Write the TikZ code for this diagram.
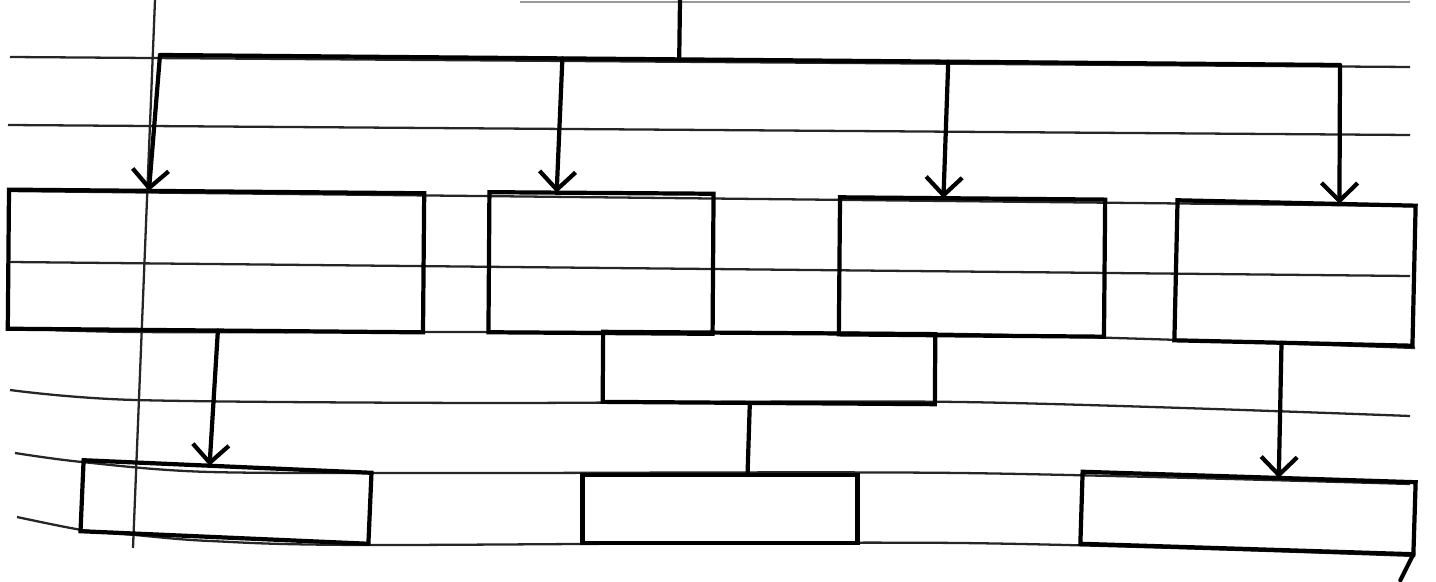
\documentclass[tikz,border=0pt]{standalone}
\usetikzlibrary{arrows.meta,calc}
\begin{document}
\begin{tikzpicture}[x=0.01cm,y=-0.01cm,
  ink/.style={line width=1.2pt, black, line cap=round, line join=round},
  ruled/.style={line width=0.65pt, black!85},
  boxnode/.style={draw, line width=1.2pt, black, rectangle, inner sep=0pt, outer sep=0pt},
  arr/.style={ink, -{Straight Barb[length=1.8mm,width=3.6mm,line width=1.2pt]}},
]
\useasboundingbox (0,0) rectangle (1436,582);
% ruled paper
\draw[ruled, black!40] (520,2) -- (1410,2);
\draw[ruled] (10,57) -- (1410,67);
\draw[ruled] (8,125) -- (1410,135);
\draw[ruled] (8,191) -- (1415,206);
\draw[ruled] (10,262) -- (1410,276);
\draw[ruled] plot[smooth] coordinates {(8,328) (135,332) (480,332) (960,334) (1415,348)};
\draw[ruled] plot[smooth] coordinates {(10,390) (135,400) (480,403) (960,402) (1410,416)};
\draw[ruled] plot[smooth] coordinates {(15,453) (82,462) (210,472) (480,473) (960,473) (1410,484)};
\draw[ruled] plot[smooth] coordinates {(17,517) (82,530) (135,535) (210,541) (370,545) (960,543) (1415,556)};
\draw[ruled] (155,0) -- (133,548);

% boxes
\node[boxnode, minimum width=4.15cm, minimum height=1.39cm, rotate=-0.5] (b1) at (216,261) {};
\node[boxnode, minimum width=2.24cm, minimum height=1.40cm, rotate=-0.4] (b2) at (601,263) {};
\node[boxnode, minimum width=2.65cm, minimum height=1.37cm, rotate=-0.5] (b3) at (972,267) {};
\node[boxnode, minimum width=2.38cm, minimum height=1.40cm, rotate=-1.3] (b4) at (1295,273) {};
\node[boxnode, minimum width=3.32cm, minimum height=0.70cm, rotate=-0.4] (m) at (769,368) {};
\node[boxnode, minimum width=2.88cm, minimum height=0.71cm, rotate=-2.5] (a) at (226,502) {};
\node[boxnode, minimum width=2.75cm, minimum height=0.68cm] (bb) at (720,509) {};
\node[boxnode, minimum width=3.33cm, minimum height=0.72cm, rotate=-1.8] (c) at (1248,513) {};

% bus and stem
\coordinate (top) at (680,0);
\coordinate (busL) at (160,55);
\coordinate (busR) at (1340,65);
\draw[ink] (busL) -- (busR);
\coordinate (stemB) at ($(busL)!0.44!(busR)$);
\draw[ink] (top) -- (stemB);

% arrows from bus to upper boxes
\coordinate (t2) at ($(busL)!0.341!(busR)$);
\coordinate (t3) at ($(busL)!0.668!(busR)$);
\draw[arr] (busL) -- ($(b1.north west)!0.337!(b1.north east)$);
\draw[arr] (t2) -- ($(b2.north west)!0.30!(b2.north east)$);
\draw[arr] (t3) -- ($(b3.north west)!0.39!(b3.north east)$);
\draw[arr] (busR) -- ($(b4.north west)!0.68!(b4.north east)$);

% lower connectors
\draw[arr] ($(b1.south west)!0.506!(b1.south east)$) -- ($(a.north west)!0.4375!(a.north east)$);
\draw[ink] ($(m.south west)!0.443!(m.south east)$) -- ($(bb.north west)!0.6!(bb.north east)$);
\draw[arr] ($(b4.south west)!0.45!(b4.south east)$) -- ($(c.north west)!0.589!(c.north east)$);

% stray tick at bottom right
\draw[ink] (c.south east) -- ++(-13,26);
\end{tikzpicture}
\end{document}
